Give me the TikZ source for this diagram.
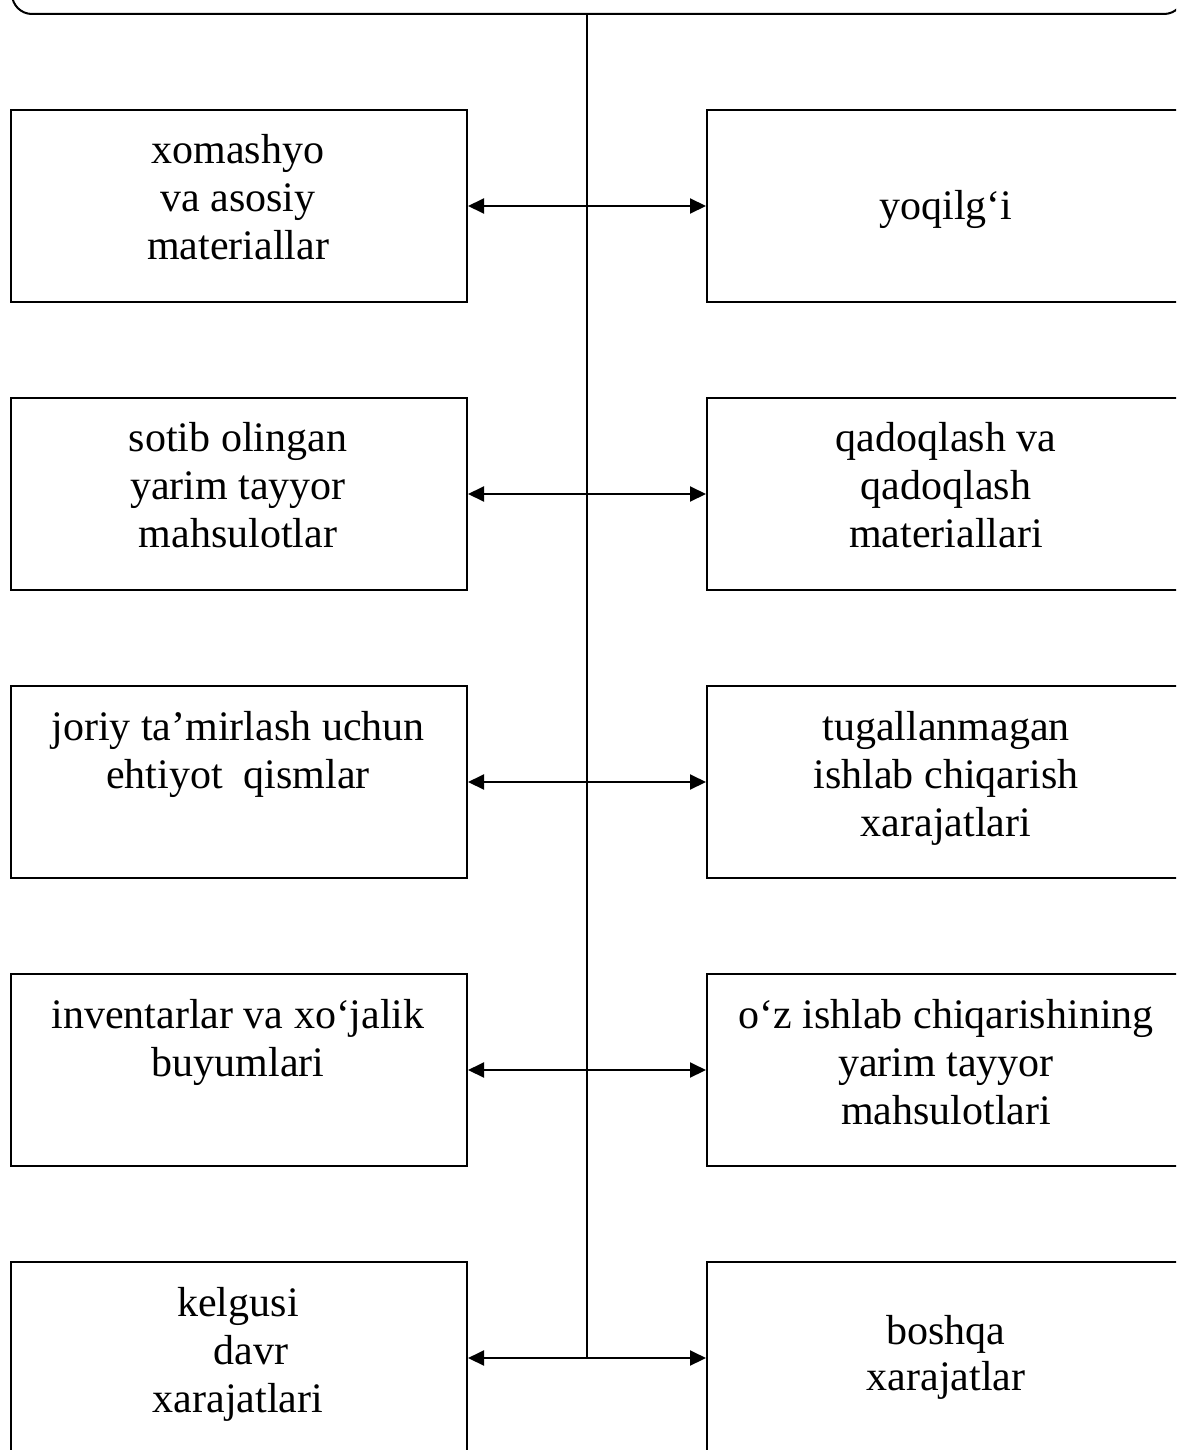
\documentclass[tikz,border=0pt]{standalone}
\usepackage{fontspec}
\setmainfont{Liberation Serif}
\usetikzlibrary{arrows.meta}
\begin{document}
\begin{tikzpicture}[x=1pt,y=-1pt,
  box/.style={draw,line width=2pt,minimum height=192pt,inner sep=0pt},
  lbox/.style={box,minimum width=456pt},
  rbox/.style={box,minimum width=478pt},
  lbl/.style={anchor=north,align=center,inner sep=0pt,font=\fontsize{42}{48}\selectfont},
  link/.style={line width=2pt,{Triangle[length=16pt,width=15pt]}-{Triangle[length=16pt,width=15pt]}},
  bus/.style={line width=2pt}]
\clip (0,0) rectangle (1176,1450);
% header (cut off)
\node[draw,line width=2pt,rounded corners=20pt,minimum width=1172pt,minimum height=120pt,inner sep=0pt] (head) at (598,-46) {};
% boxes
\node[lbox] (L1) at (239,206) {};
\node[lbox] (L2) at (239,494) {};
\node[lbox] (L3) at (239,782) {};
\node[lbox] (L4) at (239,1070) {};
\node[lbox] (L5) at (239,1358) {};
\node[rbox] (R1) at (946,206) {};
\node[rbox] (R2) at (946,494) {};
\node[rbox] (R3) at (946,782) {};
\node[rbox] (R4) at (946,1070) {};
\node[rbox] (R5) at (946,1358) {};
% texts
\node[lbl] (tL1) at (238,133) {\rule{0pt}{30pt}xomashyo\\va asosiy\\materiallar};
\node[lbl] (tL2) at (238,421) {\rule{0pt}{30pt}sotib olingan\\yarim tayyor\\mahsulotlar};
\node[lbl] (tL3) at (238,710) {\rule{0pt}{30pt}joriy ta’mirlash uchun\\ehtiyot~ qismlar};
\node[lbl] (tL4) at (238,998) {\rule{0pt}{30pt}inventarlar va xo‘jalik\\buyumlari};
\node[lbl] (tL5) at (238,1286) {\rule{0pt}{30pt}kelgusi\\\hspace*{26pt}davr\\xarajatlari};
\node[lbl] (tR1) at (946,189) {\rule{0pt}{30pt}yoqilg‘i};
\node[lbl] (tR2) at (946,421) {\rule{0pt}{30pt}qadoqlash va\\qadoqlash\\materiallari};
\node[lbl] (tR3) at (946,710) {\rule{0pt}{30pt}tugallanmagan\\ishlab chiqarish\\xarajatlari};
\node[lbl] (tR4) at (946,998) {\rule{0pt}{30pt}o‘z ishlab chiqarishining\\yarim tayyor\\mahsulotlari};
\node[lbl,font=\fontsize{42}{46}\selectfont] (tR5) at (946,1314) {\rule{0pt}{30pt}boshqa\\xarajatlar};
% bus and connectors
\coordinate (busTop) at (587,14);
\coordinate (busEnd) at (587,1358);
\draw[bus] (busTop) -- (busEnd);
\draw[link] (L1.east) -- (R1.west);
\draw[link] (L2.east) -- (R2.west);
\draw[link] (L3.east) -- (R3.west);
\draw[link] (L4.east) -- (R4.west);
\draw[link] (L5.east) -- (R5.west);
\end{tikzpicture}
\end{document}
